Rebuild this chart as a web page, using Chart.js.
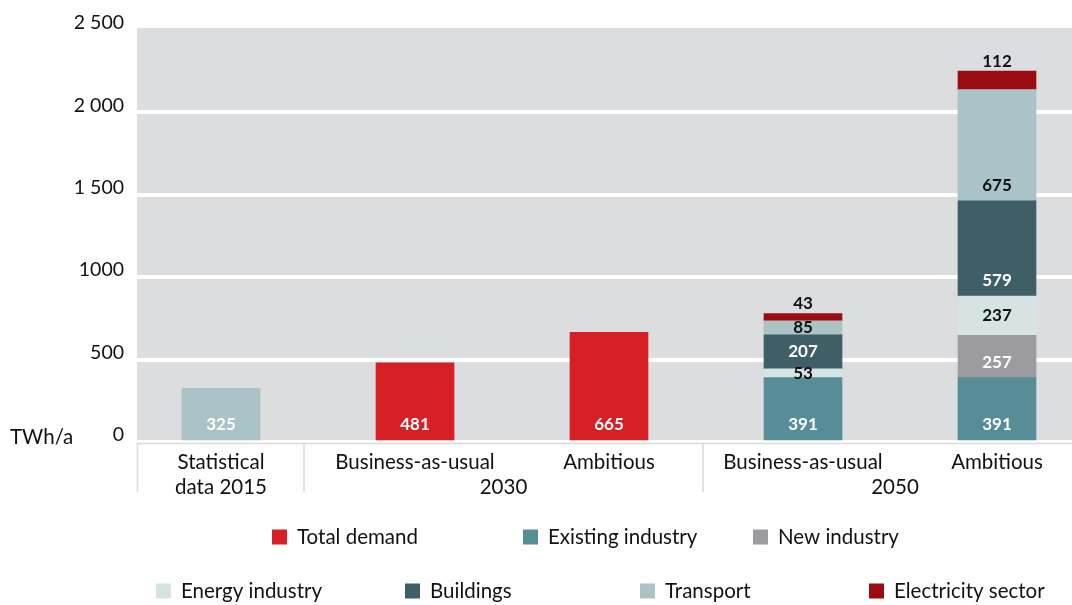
<!DOCTYPE html>
<html>
<head>
<meta charset="utf-8">
<script src="https://cdn.jsdelivr.net/npm/chart.js@4.4.1/dist/chart.umd.min.js"></script>
<style>
  html, body { margin:0; padding:0; background:#fff; overflow:hidden; }
  #clip { width:1072px; height:605px; overflow:hidden; position:relative; }
  #wrap { width:1094px; height:605px; position:relative; }
</style>
</head>
<body>
<div id="clip"><div id="wrap"><canvas id="chart"></canvas></div></div>
<script>
const categories = [['Statistical', 'data 2015'], ['Business-as-usual'], ['Ambitious'], ['Business-as-usual'], ['Ambitious']];
const periods = ['2030', '2050'];
const yTickLabels = {0:'0', 500:'500', 1000:'1000', 1500:'1 500', 2000:'2 000', 2500:'2 500'};

const totalDemand       = [325, 481, 665, null, null];
const existingIndustry  = [null, null, null, 391, 391];
const newIndustry       = [null, null, null, null, 257];
const energyIndustry    = [null, null, null, 53, 237];
const buildings         = [null, null, null, 207, 579];
const transport         = [null, null, null, 85, 675];
const electricitySector = [null, null, null, 43, 112];

const FONT = 'Lato, "Open Sans", sans-serif';
const RED = '#d71f26', TRANSPORT = '#a9c3c6';

const series = [
  {label:'Total demand', data:totalDemand, color:RED, bars:[TRANSPORT, RED, RED, RED, RED], txt:'#fff'},
  {label:'Existing industry', data:existingIndustry, color:'#568d96', txt:'#fff'},
  {label:'New industry', data:newIndustry, color:'#9c9ca0', txt:'#fff'},
  {label:'Energy industry', data:energyIndustry, color:'#d6e3e3', txt:'#111'},
  {label:'Buildings', data:buildings, color:'#3d5f65', txt:'#fff'},
  {label:'Transport', data:transport, color:TRANSPORT, txt:'#111'},
  {label:'Electricity sector', data:electricitySector, color:'#9a0c12', txt:'#111'}
];

// legend spots (square left x, row centre y)
const legendPos = [[272,537],[523,537],[753,537],[156,591],[405,591],[640,591],[869,591]];

const decor = {
  id: 'decor',
  beforeDraw(c){
    const {ctx, chartArea:a} = c;
    ctx.save();
    ctx.fillStyle = '#dcdddf';
    ctx.fillRect(137, a.top - 2, a.right - 137, a.bottom - a.top + 0.5);
    ctx.restore();
  },
  afterDraw(c){
    const {ctx, chartArea:a} = c;
    const x = c.scales.x;
    const px = i => x.getPixelForTick(i);
    ctx.save();

    // category box
    const sep1 = px(0) + 83, sep2 = (px(2) + px(3)) / 2 - 3, left = px(0) - 83.5;
    ctx.strokeStyle = '#d9d9d9';
    ctx.lineWidth = 1.5;
    ctx.beginPath();
    ctx.moveTo(left, 443.5); ctx.lineTo(a.right, 443.5);
    [left, sep1, sep2].forEach(sx => { ctx.moveTo(sx, 443); ctx.lineTo(sx, 492); });
    ctx.stroke();

    ctx.fillStyle = '#111';
    ctx.font = '20.5px ' + FONT;
    ctx.textAlign = 'center';
    ctx.textBaseline = 'middle';
    categories.forEach((lines, i) => {
      lines.forEach((t, k) => ctx.fillText(t, px(i), 462 + k * 25));
    });
    ctx.fillText(periods[0], (sep1 + sep2) / 2, 487);
    ctx.fillText(periods[1], (px(3) + px(4)) / 2 - 5, 487);

    // unit
    ctx.textAlign = 'left';
    ctx.fillText('TWh/a', 10, 437);

    // value labels
    ctx.font = 'bold 17px ' + FONT;
    ctx.textAlign = 'center';
    c.data.datasets.forEach((ds, di) => {
      const meta = c.getDatasetMeta(di);
      meta.data.forEach((el, j) => {
        const v = ds.data[j];
        if (v == null) return;
        const h = el.base - el.y;
        let y;
        if (di === series.length - 1) y = el.y - 10;
        else if (h >= 42) y = el.base - 15.5;
        else y = (el.base + el.y) / 2;
        ctx.fillStyle = series[di].txt;
        ctx.fillText(String(v), el.x, y);
      });
    });

    // legend
    ctx.font = '20.5px ' + FONT;
    ctx.textAlign = 'left';
    series.forEach((s, i) => {
      const [lx, ly] = legendPos[i];
      ctx.fillStyle = s.color;
      ctx.fillRect(lx, ly - 7.5, 15, 15);
      ctx.fillStyle = '#111';
      ctx.fillText(s.label, lx + 25, ly);
    });
    ctx.restore();
  }
};

new Chart(document.getElementById('chart'), {
  type: 'bar',
  data: {
    labels: categories.map(l => l.join(' ')),
    datasets: series.map(s => ({
      label: s.label,
      data: s.data,
      backgroundColor: s.bars || s.color,
      barThickness: 78,
      borderWidth: 0
    }))
  },
  options: {
    responsive: true,
    maintainAspectRatio: false,
    animation: false,
    layout: { padding: { top: 30, right: 0, left: 0, bottom: 0 } },
    plugins: { legend: { display: false }, tooltip: { enabled: false } },
    scales: {
      x: {
        stacked: true,
        grid: { display: false },
        border: { display: false },
        ticks: { display: false },
        afterFit(s){ s.height = 163; }
      },
      y: {
        stacked: true,
        min: 0, max: 2500,
        border: { display: false },
        grid: {
          drawTicks: false,
          lineWidth: 4,
          color: ctx => ctx.tick && ctx.tick.value === 2500 ? 'rgba(0,0,0,0)' : '#ffffff'
        },
        ticks: {
          stepSize: 500,
          padding: 0,
          labelOffset: -7,
          color: '#111',
          font: { family: FONT, size: 19.5 },
          callback: v => yTickLabels[v]
        },
        afterFit(s){ s.width = 124; }
      }
    }
  },
  plugins: [decor]
});
</script>
</body>
</html>
